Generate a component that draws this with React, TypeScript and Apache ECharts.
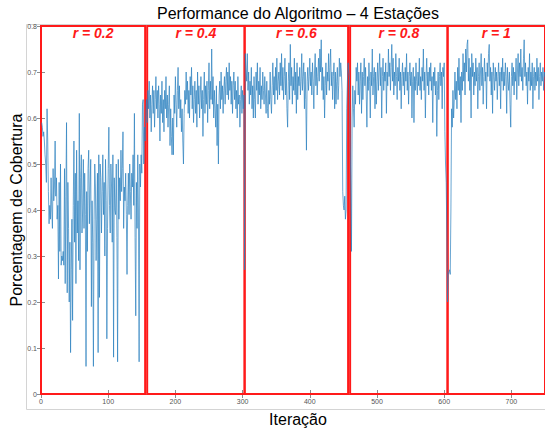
import React, { useEffect, useRef } from "react";
import * as echarts from "echarts";

// Coverage per iteration, one array per r value
const coverageR02 = [
  0.59,0.58,0.56,0.57,0.55,0.52,0.50,0.46,0.62,0.55,
  0.44,0.37,0.41,0.38,0.47,0.40,0.36,0.49,0.42,0.45,
  0.55,0.43,0.47,0.38,0.41,0.25,0.46,0.31,0.50,0.28,
  0.30,0.29,0.31,0.28,0.49,0.24,0.43,0.59,0.22,0.46,
  0.36,0.20,0.33,0.09,0.27,0.38,0.16,0.41,0.55,0.33,
  0.48,0.24,0.53,0.35,0.42,0.29,0.61,0.27,0.47,0.52,
  0.35,0.40,0.51,0.36,0.48,0.39,0.06,0.44,0.31,0.49,
  0.53,0.37,0.45,0.51,0.19,0.42,0.33,0.06,0.38,0.50,
  0.45,0.29,0.38,0.48,0.09,0.52,0.21,0.50,0.47,0.35,
  0.44,0.52,0.39,0.46,0.30,0.51,0.42,0.12,0.36,0.49,
  0.58,0.41,0.35,0.50,0.45,0.33,0.52,0.08,0.47,0.40,
  0.39,0.50,0.34,0.07,0.51,0.38,0.47,0.42,0.53,0.44,
  0.49,0.57,0.36,0.45,0.42,0.48,0.39,0.26,0.41,0.48,
  0.39,0.50,0.44,0.38,0.48,0.45,0.52,0.41,0.61,0.34,
  0.17,0.46,0.36,0.52,0.40,0.07,0.50,0.45,0.52,0.48,
  0.63,0.64,0.50,0.58,0.55,
];
const coverageR04 = [
  0.61,0.64,0.59,0.66,0.62,0.68,0.60,0.65,0.57,0.63,
  0.67,0.61,0.66,0.58,0.64,0.69,0.62,0.66,0.60,0.67,
  0.63,0.55,0.65,0.61,0.68,0.59,0.64,0.57,0.66,0.62,
  0.69,0.60,0.65,0.58,0.63,0.67,0.54,0.62,0.56,0.52,
  0.60,0.52,0.65,0.61,0.69,0.63,0.58,0.66,0.71,0.62,
  0.67,0.60,0.64,0.57,0.62,0.55,0.50,0.61,0.66,0.63,
  0.70,0.64,0.68,0.61,0.66,0.60,0.69,0.65,0.71,0.62,
  0.67,0.59,0.64,0.68,0.61,0.66,0.58,0.70,0.63,0.67,
  0.60,0.65,0.69,0.62,0.66,0.56,0.64,0.70,0.61,0.67,
  0.63,0.68,0.59,0.66,0.72,0.62,0.68,0.64,0.75,0.63,
  0.69,0.60,0.66,0.62,0.58,0.67,0.54,0.63,0.50,0.65,
  0.68,0.62,0.70,0.64,0.67,0.61,0.66,0.69,0.63,0.68,
  0.71,0.65,0.70,0.64,0.72,0.66,0.69,0.63,0.68,0.61,
  0.67,0.70,0.64,0.68,0.62,0.66,0.60,0.69,0.63,0.65,
  0.58,0.64,0.67,0.61,0.66,0.62,0.65,0.27,
];
const coverageR06 = [
  0.74,0.71,0.68,0.74,0.66,0.70,0.63,0.68,0.65,0.71,
  0.62,0.67,0.60,0.69,0.64,0.60,0.70,0.66,0.72,0.63,
  0.68,0.65,0.71,0.62,0.67,0.64,0.70,0.66,0.63,0.69,
  0.65,0.61,0.68,0.62,0.60,0.66,0.63,0.70,0.64,0.61,
  0.67,0.72,0.65,0.69,0.63,0.71,0.66,0.73,0.64,0.68,
  0.70,0.65,0.72,0.67,0.74,0.66,0.71,0.64,0.69,0.73,
  0.65,0.70,0.62,0.58,0.68,0.72,0.64,0.76,0.67,0.71,
  0.63,0.69,0.66,0.73,0.65,0.70,0.61,0.72,0.64,0.69,
  0.67,0.71,0.65,0.68,0.74,0.66,0.69,0.72,0.62,0.70,
  0.64,0.53,0.68,0.71,0.66,0.69,0.73,0.67,0.70,0.65,
  0.72,0.68,0.62,0.70,0.74,0.67,0.71,0.65,0.69,0.73,
  0.68,0.75,0.70,0.77,0.66,0.71,0.64,0.69,0.60,0.67,
  0.72,0.65,0.70,0.68,0.74,0.66,0.71,0.75,0.67,0.70,
  0.64,0.69,0.72,0.62,0.70,0.63,0.68,0.71,0.64,0.67,
  0.73,0.69,0.72,0.70,0.66,0.44,0.41,0.40,0.43,0.38,
  0.40,0.62,0.68,0.72,0.70,0.69,
];
const coverageR08 = [
  0.56,0.45,0.31,0.60,0.67,0.62,0.58,0.66,0.63,0.71,
  0.68,0.72,0.65,0.70,0.63,0.68,0.72,0.61,0.70,0.64,
  0.69,0.73,0.67,0.71,0.65,0.58,0.69,0.66,0.72,0.68,
  0.60,0.70,0.67,0.75,0.65,0.69,0.71,0.62,0.70,0.63,
  0.68,0.72,0.66,0.70,0.74,0.67,0.71,0.60,0.69,0.73,
  0.66,0.70,0.68,0.72,0.61,0.70,0.67,0.75,0.69,0.72,
  0.66,0.71,0.76,0.68,0.73,0.65,0.70,0.67,0.74,0.69,
  0.64,0.71,0.68,0.73,0.66,0.70,0.62,0.69,0.72,0.67,
  0.70,0.65,0.71,0.68,0.74,0.66,0.70,0.63,0.69,0.72,
  0.67,0.70,0.60,0.68,0.71,0.59,0.69,0.66,0.72,0.68,
  0.65,0.70,0.67,0.73,0.66,0.69,0.64,0.71,0.68,0.75,
  0.66,0.70,0.60,0.69,0.73,0.67,0.70,0.65,0.71,0.68,
  0.72,0.66,0.69,0.59,0.70,0.67,0.71,0.65,0.68,0.56,
  0.66,0.70,0.64,0.69,0.72,0.67,0.70,0.62,0.71,0.69,
  0.72,0.57,0.50,0.46,0.34,0.20,
];
const coverageR1 = [
  0.26,0.26,0.27,0.26,0.40,0.62,0.58,0.66,0.60,0.64,
  0.70,0.64,0.68,0.62,0.71,0.66,0.73,0.65,0.69,0.59,
  0.70,0.66,0.74,0.68,0.72,0.65,0.75,0.70,0.76,0.77,
  0.68,0.73,0.66,0.71,0.60,0.74,0.69,0.72,0.65,0.70,
  0.67,0.73,0.68,0.71,0.62,0.69,0.72,0.66,0.70,0.74,
  0.67,0.71,0.63,0.69,0.73,0.68,0.70,0.62,0.72,0.69,
  0.74,0.76,0.68,0.71,0.65,0.70,0.61,0.72,0.69,0.66,
  0.71,0.68,0.70,0.64,0.69,0.72,0.67,0.70,0.62,0.71,
  0.68,0.73,0.66,0.70,0.67,0.72,0.69,0.61,0.71,0.68,
  0.66,0.70,0.63,0.58,0.69,0.72,0.67,0.71,0.65,0.70,
  0.68,0.73,0.64,0.70,0.74,0.67,0.72,0.69,0.75,0.68,
  0.71,0.66,0.73,0.77,0.69,0.72,0.67,0.70,0.63,0.71,
  0.68,0.74,0.66,0.70,0.67,0.72,0.62,0.69,0.71,0.66,
  0.70,0.67,0.73,0.68,0.71,0.64,0.69,0.72,0.67,0.70,
  0.68,0.71,0.66,0.70,0.69,0.70,
];

// Red boxes marking each r value (iteration ranges)
const regionLabels = ["r = 0.2", "r = 0.4", "r = 0.6", "r = 0.8", "r = 1"];
const regionStart = [0, 158, 303, 460, 605];
const regionEnd = [155, 303, 457, 605, 750];

const xTicks = [0, 100, 200, 300, 400, 500, 600, 700];
const yTicks = [0, 0.1, 0.2, 0.3, 0.4, 0.5, 0.6, 0.7, 0.8];

const title = "Performance do Algoritmo – 4 Estações";
const xTitle = "Iteração";
const yTitle = "Porcentagem de Cobertura";

const FONT = "'Liberation Sans', Arial, Helvetica, sans-serif";

export default function App() {
  const ref = useRef<HTMLDivElement>(null);

  useEffect(() => {
    if (!ref.current) return;
    const chart = echarts.init(ref.current, null, { renderer: "svg" });

    const coverage = [
      ...coverageR02,
      ...coverageR04,
      ...coverageR06,
      ...coverageR08,
      ...coverageR1,
    ];
    const lineData = coverage.map((v, i) => [i + 1, v]);

    const areas = regionLabels.map((label, k) => [
      {
        name: label,
        xAxis: regionStart[k],
        yAxis: yTicks[0],
      },
      {
        xAxis: regionEnd[k],
        yAxis: yTicks[yTicks.length - 1],
      },
    ]);

    const tickStyle = { lineStyle: { color: "#8c8c8c", width: 1 } };
    const axisLineStyle = { lineStyle: { color: "#a0a0a0", width: 1 } };
    const labelStyle = { fontSize: 7, color: "#555", fontFamily: FONT };

    chart.setOption({
      animation: false,
      backgroundColor: "#ffffff",
      grid: { left: 41, right: 0, top: 26, bottom: 34, containLabel: false },
      xAxis: [
        {
          type: "value",
          min: xTicks[0],
          max: 750,
          interval: 100,
          axisLine: { show: true, ...axisLineStyle },
          axisTick: { show: true, inside: true, length: 4, ...tickStyle },
          axisLabel: { ...labelStyle, margin: 4, showMaxLabel: false },
          splitLine: { show: false },
        },
        {
          type: "value",
          position: "top",
          min: xTicks[0],
          max: 750,
          interval: 100,
          axisLine: { show: true, ...axisLineStyle },
          axisTick: { show: true, inside: true, length: 4, ...tickStyle },
          axisLabel: { show: false },
          splitLine: { show: false },
        },
      ],
      yAxis: [
        {
          type: "value",
          min: yTicks[0],
          max: yTicks[yTicks.length - 1],
          interval: 0.1,
          axisLine: { show: true, ...axisLineStyle },
          axisTick: { show: true, inside: true, length: 4, ...tickStyle },
          axisLabel: { ...labelStyle, margin: 4 },
          splitLine: { show: false },
        },
        {
          type: "value",
          position: "right",
          min: yTicks[0],
          max: yTicks[yTicks.length - 1],
          interval: 0.1,
          axisLine: { show: true, ...axisLineStyle },
          axisTick: { show: true, inside: true, length: 4, ...tickStyle },
          axisLabel: { show: false },
          splitLine: { show: false },
        },
      ],
      series: [
        {
          type: "line",
          data: lineData,
          xAxisIndex: 0,
          yAxisIndex: 0,
          showSymbol: false,
          symbol: "none",
          clip: false,
          lineStyle: { color: "#2a7fbf", width: 0.7 },
          markArea: {
            silent: true,
            itemStyle: {
              color: "rgba(0,0,0,0)",
              borderColor: "#ff1a1a",
              borderWidth: 2,
            },
            label: {
              show: true,
              position: "insideTop",
              distance: 1,
              color: "#ff1a1a",
              fontSize: 14,
              fontWeight: "bold",
              fontStyle: "italic",
              fontFamily: FONT,
            },
            data: areas,
          },
        },
      ],
      graphic: [
        {
          type: "rect",
          silent: true,
          z: -1,
          shape: { x: 26.5, y: 24.5, width: 600, height: 385 },
          style: { fill: "none", stroke: "#d4d4d4", lineWidth: 1 },
        },
        {
          type: "text",
          x: 298,
          y: 13,
          style: {
            text: title,
            fontSize: 16,
            fontFamily: FONT,
            fill: "#000",
            align: "center",
            verticalAlign: "middle",
          },
        },
        {
          type: "text",
          x: 298,
          y: 419,
          style: {
            text: xTitle,
            fontSize: 16,
            fontFamily: FONT,
            fill: "#000",
            align: "center",
            verticalAlign: "middle",
          },
        },
        {
          type: "text",
          x: 16,
          y: 210,
          rotation: Math.PI / 2,
          style: {
            text: yTitle,
            fontSize: 16,
            fontFamily: FONT,
            fill: "#000",
            align: "center",
            verticalAlign: "middle",
          },
        },
      ],
    });

    return () => chart.dispose();
  }, []);

  return (
    <div
      ref={ref}
      style={{
        width: 545,
        height: 428,
        position: "fixed",
        left: 0,
        top: 0,
        background: "#fff",
      }}
    />
  );
}
